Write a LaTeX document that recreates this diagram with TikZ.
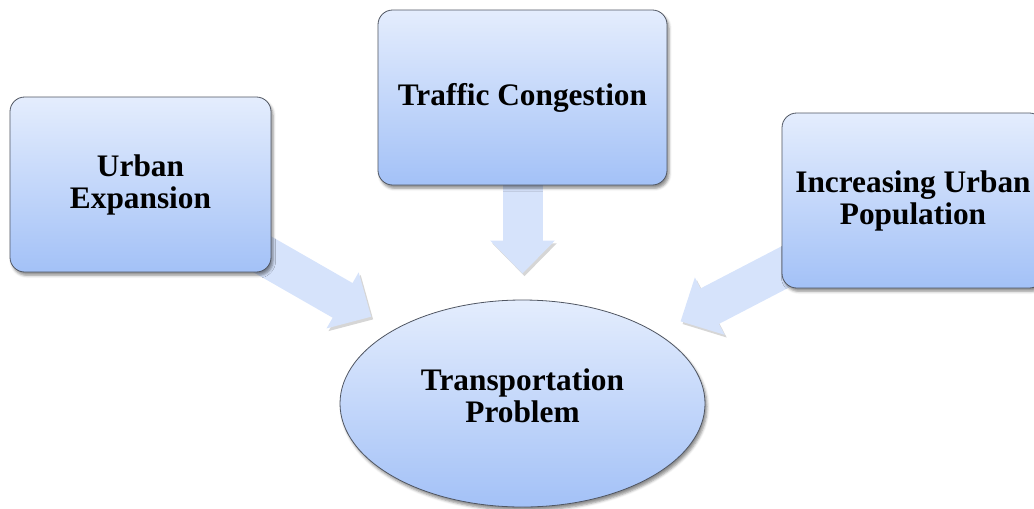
\documentclass[tikz,border=0pt]{standalone}
\usepackage{fontspec}
\setmainfont{Liberation Serif}
\usetikzlibrary{shapes}
\usetikzlibrary{arrows.meta}
\usetikzlibrary{backgrounds}
\usetikzlibrary{shadows.blur}
\definecolor{boxtop}{RGB}{228,237,253}
\definecolor{boxbot}{RGB}{163,193,247}
\definecolor{feedblue}{RGB}{214,227,251}
\definecolor{rim}{RGB}{80,86,98}
\tikzset{cause/.style={rectangle, rounded corners=11pt, draw=rim, line width=.6pt,
    top color=boxtop, bottom color=boxbot, minimum height=131.25pt, align=center,
    font=\fontsize{23.5}{24}\selectfont\bfseries,
    blur shadow={shadow xshift=1.5pt, shadow yshift=-2.5pt, shadow blur radius=2pt, shadow opacity=45}}}
\tikzset{problem/.style={ellipse, draw=rim, line width=.6pt, inner sep=0pt,
    top color=boxtop, bottom color=boxbot, minimum width=273.75pt, minimum height=155.25pt,
    align=center, font=\fontsize{23.5}{24}\selectfont\bfseries,
    blur shadow={shadow xshift=1.5pt, shadow yshift=-2.5pt, shadow blur radius=2pt, shadow opacity=45}}}
\tikzset{feed/.style={draw=feedblue, line width=30pt, -{Triangle[width=47pt,length=24.75pt]},
    shorten >=19.5pt,
    preaction={draw=black!16, transform canvas={shift={(1.5pt,-2pt)}}}}}

\begin{document}
\begin{tikzpicture}[x=.75pt,y=-.75pt]
    \useasboundingbox (0,0) rectangle (1034,508);
    \foreach \x/\y/\w/\lab/\tx in {
      140.5/184.5/195.75/urb/Urban\\Expansion,
      522.5/97.5/216.75/traf/Traffic Congestion,
      913/200.5/196.5/pop/Increasing Urban\\Population%
    } {
      \node[cause, minimum width=\w pt] (\lab) at (\x, \y) {\tx};
    }
    \node[problem] (prob) at (522.5, 403.5) {Transportation\\Problem\\[-12pt]};
    \begin{scope}[on background layer]
      \foreach \u in {urb, traf, pop}{
        \draw[feed] (\u.center) -- (prob);
      }
    \end{scope}
  \end{tikzpicture}
\end{document}
